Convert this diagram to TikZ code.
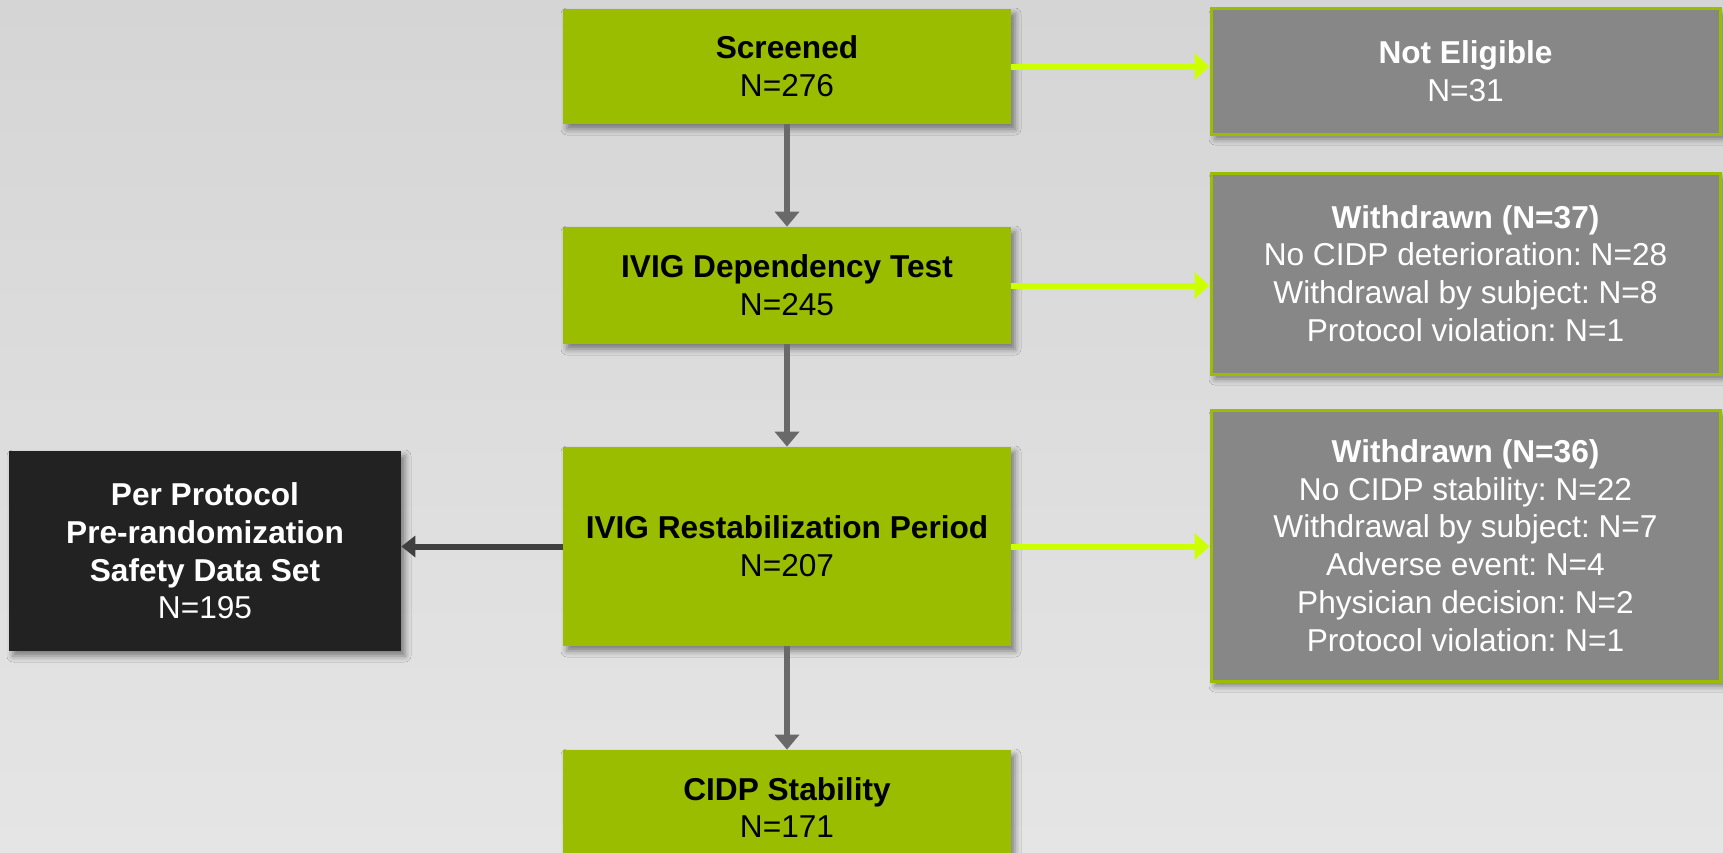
\documentclass[tikz,border=0pt]{standalone}
\usepackage{fontspec}
\setmainfont{Liberation Sans}
\usetikzlibrary{arrows.meta,shadows.blur}
\definecolor{lime}{RGB}{155,189,0}
\definecolor{limearrow}{RGB}{204,255,0}
\definecolor{boxgray}{RGB}{135,135,135}
\definecolor{darkbox}{RGB}{34,34,34}
\definecolor{arrowgray}{RGB}{105,105,105}
\definecolor{arrowdark}{RGB}{64,64,64}
\definecolor{bgtop}{RGB}{213,213,213}
\definecolor{bgbot}{RGB}{229,229,229}
\frenchspacing
\begin{document}
\begin{tikzpicture}[
    boxshadow/.style={blur shadow={shadow xshift=0.08cm,shadow yshift=-0.1cm,shadow blur radius=0.12cm,shadow opacity=45}},
    stage/.style={fill=lime,text=black,align=center,inner sep=0pt,
        minimum width=8.96cm,minimum height=2.3cm,
        font=\fontsize{18}{21.5}\selectfont,boxshadow},
    dropout/.style={fill=boxgray,draw=lime,line width=0.06cm,text=white,align=center,inner sep=0pt,
        minimum width=10.18cm,font=\fontsize{18}{21.5}\selectfont,boxshadow},
    dataset/.style={fill=darkbox,text=white,align=center,inner sep=0pt,
        minimum width=7.84cm,minimum height=4cm,
        font=\fontsize{18}{21.5}\selectfont,boxshadow},
    flow/.style={-{Triangle[length=0.3cm,width=0.48cm]},line width=0.13cm,arrowgray},
    exit/.style={-{Triangle[length=0.3cm,width=0.52cm]},line width=0.12cm,limearrow},
    side/.style={-{Triangle[length=0.28cm,width=0.42cm]},line width=0.12cm,arrowdark}
]
\clip (0,-17.06) rectangle (34.46,0);
\shade[top color=bgtop,bottom color=bgbot] (0,-17.06) rectangle (34.46,0);

% main column
\node[stage] (screened) at (15.74,-1.33) {\textbf{Screened}\\N=276};
\node[stage,minimum height=2.34cm] (depend) at (15.74,-5.71) {\textbf{IVIG Dependency Test}\\N=245};
\node[stage,minimum height=3.98cm] (restab) at (15.74,-10.93) {\textbf{IVIG Restabilization Period}\\N=207};
\node[stage] (stable) at (15.74,-16.15) {\textbf{CIDP Stability}\\N=171};

% exits
\node[dropout,minimum height=2.5cm] (noteligible) at (29.31,-1.43) {\textbf{Not Eligible}\\N=31};
\node[dropout,minimum height=4.02cm] (withdrawnA) at (29.31,-5.47) {\textbf{Withdrawn (N=37)}\\No CIDP deterioration: N=28\\Withdrawal by subject: N=8\\Protocol violation: N=1};
\node[dropout,minimum height=5.42cm] (withdrawnB) at (29.31,-10.91) {\textbf{Withdrawn (N=36)}\\No CIDP stability: N=22\\Withdrawal by subject: N=7\\Adverse event: N=4\\Physician decision: N=2\\Protocol violation: N=1};

\node[dataset] (perprotocol) at (4.10,-11.02) {\textbf{Per Protocol}\\\textbf{Pre-randomization}\\\textbf{Safety Data Set}\\N=195};

\draw[flow] (screened.south)--(depend.north);
\draw[flow] (depend.south)--(restab.north);
\draw[flow] (restab.south)--(stable.north);

\draw[exit] (screened.east)--(screened.east -| noteligible.west);
\draw[exit] (depend.east)--(depend.east -| withdrawnA.west);
\draw[exit] (restab.east)--(restab.east -| withdrawnB.west);

\draw[side] (restab.west)--(restab.west -| perprotocol.east);
\end{tikzpicture}
\end{document}
